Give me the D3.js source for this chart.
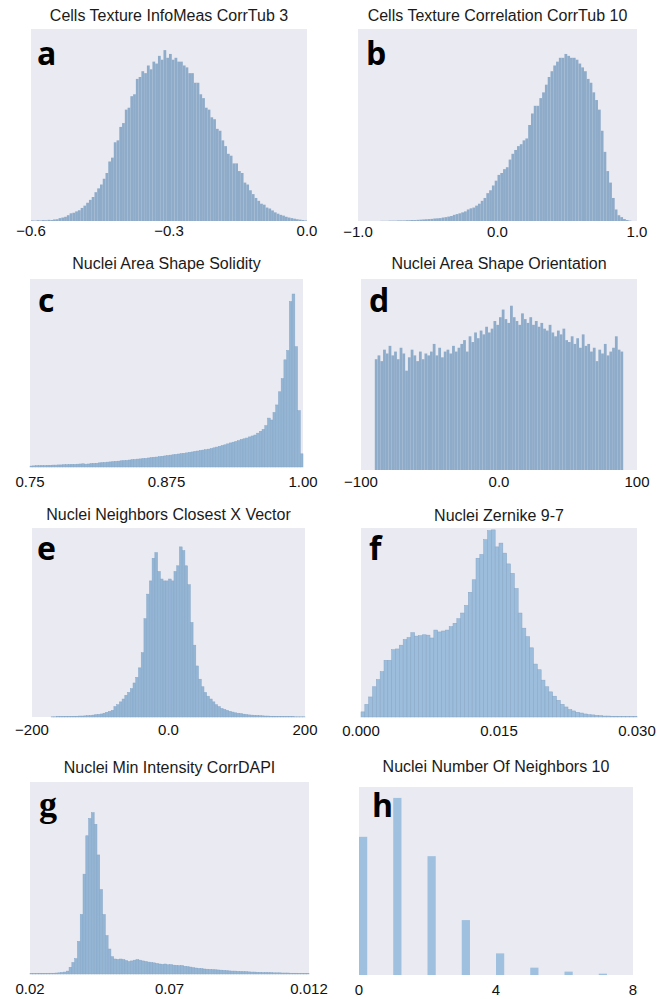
<!DOCTYPE html>
<html>
<head>
<meta charset="utf-8">
<script src="https://cdn.jsdelivr.net/npm/d3@7"></script>
<style>
  body { margin: 0; background: #fff; }
  svg text { font-family: "Liberation Sans", Arial, sans-serif; }
  .title { font-size: 16px; fill: #1a1a1a; }
  .tick { font-size: 15px; fill: #111; }
  .letter { font-family: "Open Sans", sans-serif !important; font-weight: 700; font-size: 32px; fill: #000; }
  .letter.serif { font-family: "Liberation Serif", serif !important; font-size: 36px; }
</style>
</head>
<body>
<div id="graph"></div>
<script>

var aTitle = 'Cells Texture InfoMeas CorrTub 3'
var aBins = [-0.6, 0.0]
var aTicks = [-0.6, -0.3, 0.0]
var aTickLabels = ['\u22120.6', '\u22120.3', '0.0']
var aCounts = [0.3, 0.2, 0.4, 0.3, 0.5, 0.4, 0.6, 0.5, 0.8, 0.9,
    1.5, 1.8, 2.2, 3.0, 4.0, 4.3, 5.0, 5.6, 6.8, 8.0,
    9.5, 11, 12.5, 15, 17, 19, 22, 25, 31, 33,
    41, 42, 49, 51, 58, 59, 65, 66, 74, 75,
    78, 77, 81, 79, 83, 82, 86, 84, 89, 85,
    87, 84, 85, 83, 83, 81, 80, 77, 77, 72,
    72, 66, 64, 59, 58, 54, 53, 48, 47, 42,
    39, 35, 34, 30, 30, 26, 25, 20, 19, 16,
    14, 12, 10.5, 9, 8.5, 7, 6.5, 5.5, 4.5, 3.8,
    3.2, 2.8, 2.2, 1.8, 1.5, 1.2, 0.9, 0.7, 0.5, 0.3]

var bTitle = 'Cells Texture Correlation CorrTub 10'
var bBins = [-1.0, 1.0]
var bTicks = [-1.0, 0.0, 1.0]
var bTickLabels = ['\u22121.0', '0.0', '1.0']
var bCounts = [0, 0, 0, 0, 0, 0, 0, 0, 0.1, 0.1,
    0.1, 0.2, 0.2, 0.2, 0.3, 0.3, 0.3, 0.4, 0.4, 0.5,
    0.5, 0.6, 0.7, 0.8, 0.9, 1.0, 1.1, 1.3, 1.4, 1.5,
    1.8, 2.0, 2.3, 2.6, 3.2, 3.6, 4.0, 4.5, 5.0, 6.0,
    6.6, 7.0, 8.0, 9.0, 10.5, 12, 14.5, 16, 18.5, 21,
    24, 25, 27, 28, 32, 35, 37, 39, 40, 42,
    43, 50, 56, 60, 60, 64, 67, 71, 75, 78,
    81, 83, 85, 85, 87, 86, 85, 85, 84, 82,
    80, 78, 74, 72, 67, 63, 58, 47, 36, 26,
    20, 12, 6, 3, 2, 1, 0.5, 0.2, 0, 0]

var cTitle = 'Nuclei Area Shape Solidity'
var cBins = [0.75, 1.0]
var cTicks = [0.75, 0.875, 1.0]
var cTickLabels = ['0.75', '0.875', '1.00']
var cCounts = [0.5, 0.6, 0.7, 0.7, 0.8, 0.8, 0.9, 0.9, 1.0, 1.0,
    1.1, 1.1, 1.2, 1.2, 1.3, 1.4, 1.4, 1.5, 1.6, 1.7,
    1.5, 1.6, 1.8, 1.9, 2.0, 2.2, 2.3, 2.4, 2.6, 2.7,
    2.8, 3.0, 3.1, 3.3, 3.4, 3.5, 3.7, 3.9, 4.0, 4.2,
    4.3, 4.5, 4.6, 4.8, 5.0, 5.2, 5.3, 5.5, 5.7, 5.9,
    6.1, 6.3, 6.5, 6.7, 6.9, 7.1, 7.3, 7.5, 7.8, 8.0,
    8.3, 8.5, 8.8, 9.0, 9.2, 9.5, 9.8, 10.2, 10.6, 11.0,
    11.4, 11.8, 12.3, 12.8, 13.2, 13.6, 14.0, 14.6, 15.0, 15.4,
    16, 16.5, 17, 18, 19, 20, 22, 26, 25, 29,
    33, 40, 47, 57, 62, 88, 92, 64, 30, 7]

var dTitle = 'Nuclei Area Shape Orientation'
var dBins = [-90, 90]
var dTicks = [-100, 0, 100]
var dTickLabels = ['\u2212100', '0.0', '100']
var dCounts = [58, 60, 57, 63, 61, 65, 60, 62, 58, 64,
    61, 52, 59, 63, 60, 57, 62, 58, 61, 60,
    62, 66, 60, 64, 59, 62, 63, 61, 65, 62,
    64, 66, 68, 62, 70, 67, 72, 69, 73, 71,
    75, 72, 74, 78, 76, 80, 84, 79, 77, 86,
    80, 78, 76, 82, 79, 77, 80, 76, 78, 75,
    77, 74, 73, 76, 72, 70, 73, 71, 74, 68,
    67, 70, 66, 69, 64, 71, 65, 66, 62, 64,
    57, 63, 61, 66, 60, 62, 64, 70, 63, 62]

var eTitle = 'Nuclei Neighbors Closest X Vector'
var eBins = [-200, 200]
var eTicks = [-200, 0, 200]
var eTickLabels = ['\u2212200', '0.0', '200']
var eCounts = [0, 0, 0, 0, 0, 0, 0, 0.1, 0.1, 0.2,
    0.2, 0.2, 0.3, 0.3, 0.3, 0.4, 0.4, 0.5, 0.5, 0.6,
    0.7, 0.8, 1.0, 1.2, 1.4, 1.6, 2.0, 2.5, 3.0, 3.5,
    5.5, 6.5, 8, 9.5, 11.5, 13, 15, 18, 21, 26,
    34, 52, 65, 72, 84, 87, 77, 73, 72, 72,
    73, 72, 77, 80, 90, 88, 80, 70, 50, 38,
    27, 20, 16, 13, 11, 9.5, 8, 6.5, 5.5, 4.5,
    4, 3.5, 3, 2.6, 2.2, 2.0, 1.8, 1.5, 1.3, 1.1,
    1.0, 0.9, 0.8, 0.7, 0.6, 0.5, 0.5, 0.4, 0.4, 0.3,
    0.3, 0.3, 0.2, 0.2, 0.2, 0.2, 0.1, 0.1, 0.1, 0.1]

var fTitle = 'Nuclei Zernike 9-7'
var fBins = [0, 0.030]
var fTicks = [0, 0.015, 0.030]
var fTickLabels = ['0.000', '0.015', '0.030']
var fCounts = [2.7, 6.7, 10.6, 16, 19.8, 24, 30, 30, 35.6, 36,
    38, 41, 42, 44.6, 42.8, 43, 43.5, 43.3, 41.8, 46,
    45, 45.5, 46, 47.8, 49.6, 52, 55, 59, 66, 72.6,
    84, 86, 93.8, 98.6, 99, 90, 92, 86.7, 81, 76,
    68, 55, 47, 42.5, 36.6, 28, 25, 19.5, 16, 13.3,
    11, 8.8, 6.7, 5.3, 3.9, 3.2, 2.5, 2.1, 1.6, 1.2,
    1.1, 0.9, 0.7, 0.5, 0.5, 0.4, 0.4, 0.3, 0.3, 0.2,
    0.2, 0.2]

var gTitle = 'Nuclei Min Intensity CorrDAPI'
var gBins = [0.02, 0.12]
var gTicks = [0.02, 0.07, 0.12]
var gTickLabels = ['0.02', '0.07', '0.012']
var gCounts = [0.2, 0.2, 0.2, 0.3, 0.3, 0.3, 0.3, 0.4, 0.4, 0.5,
    0.6, 0.8, 1.0, 1.5, 3.5, 6, 8, 17, 31, 52,
    72, 81, 84, 78, 62, 44, 31, 20, 13, 9,
    7.8, 7.6, 7.8, 7.5, 7.0, 6.5, 6.8, 7.2, 7.5, 7.2,
    6.8, 6.5, 6.2, 6.0, 5.8, 5.5, 5.2, 5.0, 5.2, 4.8,
    4.9, 4.6, 4.5, 4.3, 4.4, 4.0, 3.8, 3.6, 3.3, 3.1,
    2.9, 2.8, 2.6, 2.5, 2.4, 2.3, 2.2, 2.1, 2.0, 1.9,
    1.7, 1.6, 1.5, 1.5, 1.4, 1.3, 1.2, 1.2, 1.1, 1.0,
    1.0, 0.9, 0.9, 0.8, 0.8, 0.7, 0.7, 0.6, 0.6, 0.6,
    0.5, 0.5, 0.5, 0.4, 0.4, 0.4, 0.3, 0.3, 0.3, 0.3]

var hTitle = 'Nuclei Number Of Neighbors 10'
var hValues = [0, 1, 2, 3, 4, 5, 6, 7]
var hCounts = [73.5, 94.2, 63.2, 29.2, 11.5, 3.9, 1.8, 0.7]
var hTicks = [0, 4, 8]
var hTickLabels = ['0', '4', '8']

// plot boxes and label spots
var layout = {
    a: { x0: 31, x1: 307, y0: 29, y1: 221, tickDy: 15, titleY: 21, lx: 37, ly: 65, fill: '#8eabc9', stroke: 'none' },
    b: { x0: 358, x1: 637, y0: 29, y1: 221, tickDy: 16, titleY: 21, lx: 366, ly: 65, fill: '#8eabc9', stroke: 'none' },
    c: { x0: 30, x1: 303, y0: 279, y1: 467, tickDy: 20, titleY: 269, lx: 38, ly: 312, fill: '#95b5d5', stroke: '#86a7c7' },
    d: { x0: 361, x1: 637, y0: 279, y1: 470, tickDy: 17, titleY: 269, lx: 369, ly: 312, fill: '#8eabc9', stroke: 'none' },
    e: { x0: 32, x1: 305, y0: 528, y1: 717, tickDy: 18, titleY: 520, lx: 37, ly: 560, fill: '#95b5d5', stroke: '#86a7c7' },
    f: { x0: 361, x1: 637, y0: 528, y1: 717, tickDy: 19, titleY: 521, lx: 369, ly: 560, fill: '#9dbddc', stroke: '#86a6c6' },
    g: { x0: 30, x1: 309, y0: 782, y1: 974, tickDy: 20, titleY: 773, lx: 39, ly: 816, fill: '#95b5d5', stroke: '#86a7c7', serif: true },
    h: { x0: 359, x1: 633, y0: 787, y1: 975, tickDy: 20, titleY: 772, lx: 372, ly: 817, fill: '#9fc0de', stroke: 'none' }
}

var panels = [
    { key: 'a', title: aTitle, counts: aCounts, bins: aBins, ticks: aTicks, labels: aTickLabels },
    { key: 'b', title: bTitle, counts: bCounts, bins: bBins, ticks: bTicks, labels: bTickLabels },
    { key: 'c', title: cTitle, counts: cCounts, bins: cBins, ticks: cTicks, labels: cTickLabels },
    { key: 'd', title: dTitle, counts: dCounts, bins: dBins, ticks: dTicks, labels: dTickLabels },
    { key: 'e', title: eTitle, counts: eCounts, bins: eBins, ticks: eTicks, labels: eTickLabels },
    { key: 'f', title: fTitle, counts: fCounts, bins: fBins, ticks: fTicks, labels: fTickLabels },
    { key: 'g', title: gTitle, counts: gCounts, bins: gBins, ticks: gTicks, labels: gTickLabels },
    { key: 'h', title: hTitle, counts: hCounts, values: hValues, ticks: hTicks, labels: hTickLabels }
]

var svg = d3.select('#graph').append('svg')
    .attr('width', 665)
    .attr('height', 999)

panels.forEach(function (p) {
    var L = layout[p.key]
    var g = svg.append('g').attr('id', 'panel-' + p.key)

    var x = d3.scaleLinear()
        .domain([p.ticks[0], p.ticks[p.ticks.length - 1]])
        .range([L.x0, L.x1])
    var y = d3.scaleLinear()
        .domain([0, 100])
        .range([L.y1, L.y0])

    g.append('rect')
        .attr('x', L.x0)
        .attr('y', L.y0)
        .attr('width', L.x1 - L.x0)
        .attr('height', L.y1 - L.y0)
        .attr('fill', '#eaeaf2')

    var bars
    if (p.values) {
        // discrete counts, narrow bars starting at each integer
        bars = g.selectAll('.bar')
            .data(p.values)
            .enter()
            .append('rect')
            .attr('x', function (d) { return x(d) })
            .attr('width', function (d) { return x(d + 0.24) - x(d) })
            .attr('y', function (d, i) { return y(p.counts[i]) })
            .attr('height', function (d, i) { return y(0) - y(p.counts[i]) })
    } else {
        var w = (p.bins[1] - p.bins[0]) / p.counts.length
        bars = g.selectAll('.bar')
            .data(p.counts)
            .enter()
            .append('rect')
            .attr('x', function (d, i) { return x(p.bins[0] + i * w) })
            .attr('width', function (d, i) { return x(p.bins[0] + (i + 1) * w) - x(p.bins[0] + i * w) })
            .attr('y', function (d) { return y(d) })
            .attr('height', function (d) { return y(0) - y(d) })
    }
    bars.attr('class', 'bar')
        .attr('fill', L.fill)
        .attr('stroke', L.stroke)
        .attr('stroke-width', 0.5)

    g.selectAll('.tick')
        .data(p.ticks)
        .enter()
        .append('text')
        .attr('class', 'tick')
        .attr('x', function (d) { return x(d) })
        .attr('y', L.y1 + L.tickDy)
        .attr('text-anchor', 'middle')
        .text(function (d, i) { return p.labels[i] })

    g.append('text')
        .attr('class', 'title')
        .attr('x', (L.x0 + L.x1) / 2)
        .attr('y', L.titleY)
        .attr('text-anchor', 'middle')
        .text(p.title)

    g.append('text')
        .attr('class', L.serif ? 'letter serif' : 'letter')
        .attr('x', L.lx)
        .attr('y', L.ly)
        .text(p.key)
})
</script>
</body>
</html>
